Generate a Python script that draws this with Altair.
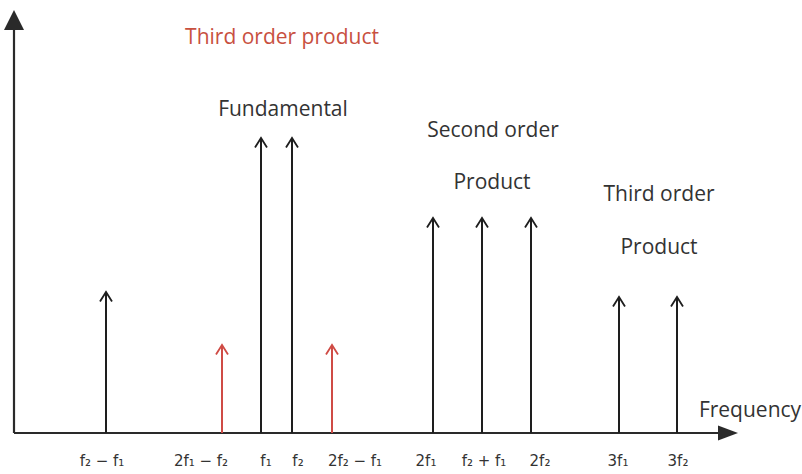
import altair as alt
import pandas as pd

# Spectral components: frequency position, relative level, and class
tone_labels = ["f₂ − f₁", "2f₁ − f₂", "f₁", "f₂", "2f₂ − f₁",
               "2f₁", "f₂ + f₁", "2f₂", "3f₁", "3f₂"]
tone_freq = [9.2, 20.8, 24.7, 27.8, 31.8, 41.9, 46.8, 51.7, 60.5, 66.3]
tone_level = [14.1, 8.8, 29.5, 29.5, 8.8, 21.5, 21.5, 21.5, 13.6, 13.6]
tone_kind = ["other", "im3", "other", "other", "im3",
             "other", "other", "other", "other", "other"]
label_freq = [8.8, 18.7, 25.2, 28.4, 34.1, 41.2, 47.0, 52.6, 60.4, 66.4]

# Group captions
note_text = ["Third order product", "Fundamental", "Second order", "Product",
             "Third order", "Product", "Frequency"]
note_x = [26.8, 26.9, 47.9, 47.8, 64.5, 64.5, 73.6]
note_y = [39.5, 32.3, 30.2, 25.0, 23.8, 18.5, 2.2]
note_kind = ["im3", "other", "other", "other", "other", "other", "other"]

freq_axis_end = 71.4
level_axis_end = 41.3

tones = pd.DataFrame({"freq": tone_freq, "level": tone_level, "kind": tone_kind,
                      "label": tone_labels, "label_freq": label_freq})
notes = pd.DataFrame({"text": note_text, "x": note_x, "y": note_y, "kind": note_kind})

xs = alt.Scale(domain=[-1.4, 78.8])
ys = alt.Scale(domain=[-4.1, 43.3])
colors = alt.Scale(domain=["other", "im3"], range=["#1e1e1e", "#cf4b45"])

AXIS = "#2a2a2a"

freq_axis = alt.Chart(pd.DataFrame({"x0": [0.0], "x1": [freq_axis_end], "y0": [0.0]})).mark_rule(
    color=AXIS, strokeWidth=2.2
).encode(x=alt.X("x0:Q", scale=xs, axis=None), x2="x1:Q", y=alt.Y("y0:Q", scale=ys, axis=None))

level_axis = alt.Chart(pd.DataFrame({"x0": [0.0], "y0": [0.0], "y1": [level_axis_end]})).mark_rule(
    color=AXIS, strokeWidth=2.2
).encode(x=alt.X("x0:Q", scale=xs, axis=None), y=alt.Y("y0:Q", scale=ys, axis=None), y2="y1:Q")

freq_head = alt.Chart(pd.DataFrame({"x": [freq_axis_end], "y": [0.0]})).mark_point(
    shape="M-1,-0.75L1,0L-1,0.75Z", filled=True, size=400, color=AXIS, opacity=1
).encode(x=alt.X("x:Q", scale=xs, axis=None), y=alt.Y("y:Q", scale=ys, axis=None))

level_head = alt.Chart(pd.DataFrame({"x": [0.0], "y": [level_axis_end]})).mark_point(
    shape="M-1,1L0,-1L1,1Z", filled=True, size=400, color=AXIS, opacity=1
).encode(x=alt.X("x:Q", scale=xs, axis=None), y=alt.Y("y:Q", scale=ys, axis=None))

base = alt.Chart(tones)

# Vertical spectral lines from the frequency axis up to each component's level
stems = base.transform_calculate(zero="0").mark_rule(strokeWidth=2).encode(
    x=alt.X("freq:Q", scale=xs, axis=None),
    y=alt.Y("zero:Q", scale=ys, axis=None),
    y2="level:Q",
    color=alt.Color("kind:N", scale=colors, legend=None),
)

# Open arrowheads on top of each line
heads = base.mark_point(
    shape="M-1,1.6L0,0L1,1.6", filled=False, size=144, strokeWidth=1.8, opacity=1
).encode(
    x=alt.X("freq:Q", scale=xs, axis=None),
    y=alt.Y("level:Q", scale=ys, axis=None),
    color=alt.Color("kind:N", scale=colors, legend=None),
)

tick_text = base.transform_calculate(ly="-2.8").mark_text(
    font="DejaVu Sans", fontSize=15, color="#333333", baseline="middle", align="center"
).encode(
    x=alt.X("label_freq:Q", scale=xs, axis=None),
    y=alt.Y("ly:Q", scale=ys, axis=None),
    text="label:N",
)

captions = alt.Chart(notes).mark_text(
    font="Open Sans", fontSize=21, baseline="middle", align="center"
).encode(
    x=alt.X("x:Q", scale=xs, axis=None),
    y=alt.Y("y:Q", scale=ys, axis=None),
    text="text:N",
    color=alt.Color("kind:N", scale=alt.Scale(domain=["other", "im3"], range=["#333333", "#c8503f"]), legend=None),
)

chart = alt.layer(
    freq_axis, level_axis, freq_head, level_head, stems, heads, tick_text, captions
).resolve_scale(color="independent").properties(
    width=802, height=474, autosize=alt.AutoSizeParams(type="none"), padding=0,
    background="white",
).configure_view(stroke=None)

chart.save("out.html", embed_options={"renderer": "svg", "actions": False})
